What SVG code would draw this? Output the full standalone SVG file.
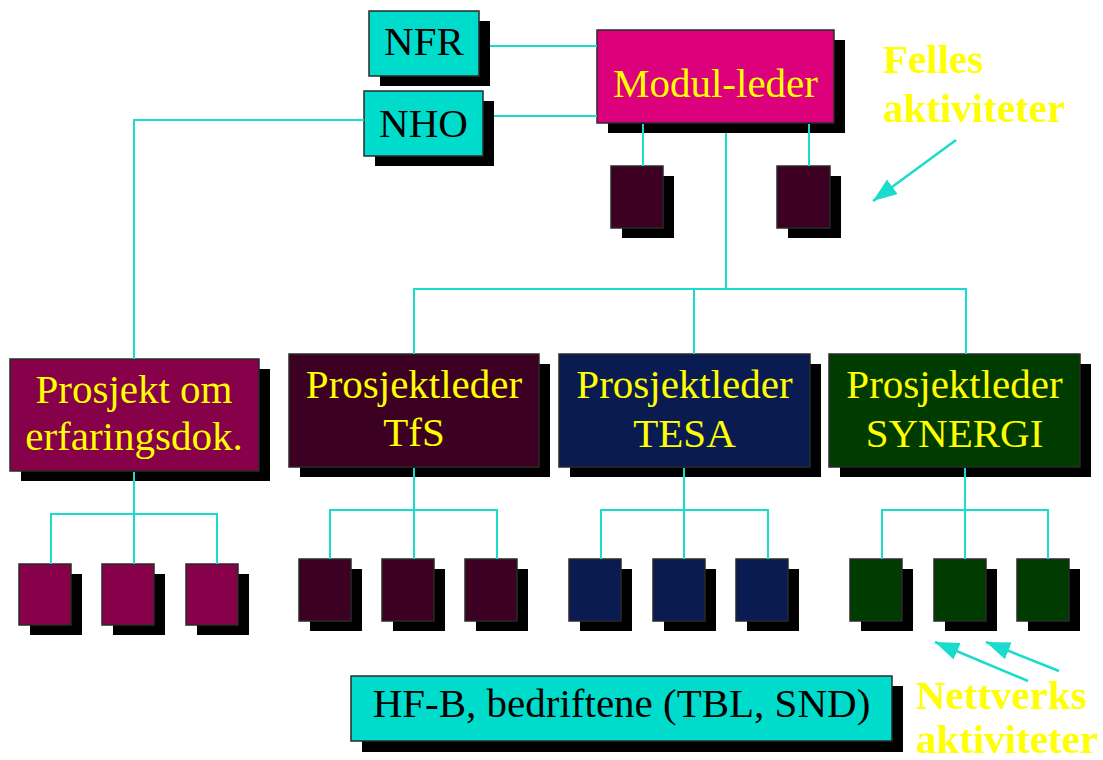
<svg xmlns="http://www.w3.org/2000/svg" width="1103" height="760" viewBox="0 0 1103 760">
  <style>
    .shadow { fill: #000; }
    .box { stroke: #2a2a2a; stroke-width: 1.5; }
    .cyan { fill: #00dccb; }
    .magenta { fill: #dc007c; }
    .plum { fill: #86004a; }
    .wine { fill: #3c0022; }
    .navy { fill: #0a1b52; }
    .forest { fill: #003c00; }
    .label { font-family: "Liberation Serif", "Times New Roman", serif; font-size: 41px; text-anchor: middle; }
    .yellow { fill: #ffff00; }
    .dark { fill: #000; }
    .note { font-family: "Liberation Serif", "Times New Roman", serif; font-size: 41px; font-weight: bold; fill: #ffff00; }
    .link { fill: none; stroke: #1adccc; stroke-width: 2; }
    .pointer { fill: none; stroke: #1adccc; stroke-width: 2.5; }
  </style>
  <defs>
    <marker id="head" markerUnits="userSpaceOnUse" markerWidth="26" markerHeight="20" refX="24" refY="9" orient="auto">
      <path d="M0,0 L24,9 L0,18 Z" fill="#1adccc"/>
    </marker>
  </defs>

  <rect width="1103" height="760" fill="#fff"/>

  <!-- partner organisations -->
  <g id="nfr">
    <rect class="shadow" x="380" y="21" width="110" height="65"/>
    <rect class="box cyan" x="369" y="11" width="110" height="65"/>
    <text class="label dark" x="424" y="55">NFR</text>
  </g>
  <g id="nho">
    <rect class="shadow" x="375" y="101" width="119" height="65"/>
    <rect class="box cyan" x="364" y="91" width="119" height="65"/>
    <text class="label dark" x="423.5" y="137">NHO</text>
  </g>

  <!-- module leader and shared activities -->
  <g id="modul-leder">
    <rect class="shadow" x="608" y="40" width="237" height="93"/>
    <rect class="box magenta" x="597" y="30" width="237" height="93"/>
    <text class="label yellow" x="715.5" y="97">Modul-leder</text>
  </g>
  <g id="felles-1">
    <rect class="shadow" x="622" y="176" width="52" height="62"/>
    <rect class="box wine" x="611" y="166" width="52" height="62"/>
  </g>
  <g id="felles-2">
    <rect class="shadow" x="788" y="176" width="53" height="62"/>
    <rect class="box wine" x="777" y="166" width="53" height="62"/>
  </g>

  <!-- project leaders -->
  <g id="erfaringsdok">
    <rect class="shadow" x="21" y="369" width="249" height="112"/>
    <rect class="box plum" x="10" y="359" width="249" height="112"/>
    <text class="label yellow" x="134" y="403">Prosjekt om</text>
    <text class="label yellow" x="134" y="450">erfaringsdok.</text>
  </g>
  <g id="tfs">
    <rect class="shadow" x="300" y="364" width="250" height="113"/>
    <rect class="box wine" x="289" y="354" width="250" height="113"/>
    <text class="label yellow" x="414" y="398">Prosjektleder</text>
    <text class="label yellow" x="414" y="446">TfS</text>
  </g>
  <g id="tesa">
    <rect class="shadow" x="570" y="364" width="251" height="113"/>
    <rect class="box navy" x="559" y="354" width="251" height="113"/>
    <text class="label yellow" x="684.5" y="398">Prosjektleder</text>
    <text class="label yellow" x="684.5" y="447">TESA</text>
  </g>
  <g id="synergi">
    <rect class="shadow" x="840" y="364" width="251" height="113"/>
    <rect class="box forest" x="829" y="354" width="251" height="113"/>
    <text class="label yellow" x="954.5" y="398">Prosjektleder</text>
    <text class="label yellow" x="954.5" y="447">SYNERGI</text>
  </g>

  <!-- sub-projects -->
  <g id="erfaringsdok-1"><rect class="shadow" x="30" y="574" width="52" height="61"/><rect class="box plum" x="19" y="564" width="52" height="61"/></g>
  <g id="erfaringsdok-2"><rect class="shadow" x="113" y="574" width="52" height="61"/><rect class="box plum" x="102" y="564" width="52" height="61"/></g>
  <g id="erfaringsdok-3"><rect class="shadow" x="197" y="574" width="52" height="61"/><rect class="box plum" x="186" y="564" width="52" height="61"/></g>

  <g id="tfs-1"><rect class="shadow" x="310" y="569" width="52" height="62"/><rect class="box wine" x="299" y="559" width="52" height="62"/></g>
  <g id="tfs-2"><rect class="shadow" x="393" y="569" width="52" height="62"/><rect class="box wine" x="382" y="559" width="52" height="62"/></g>
  <g id="tfs-3"><rect class="shadow" x="476" y="569" width="52" height="62"/><rect class="box wine" x="465" y="559" width="52" height="62"/></g>

  <g id="tesa-1"><rect class="shadow" x="580" y="569" width="52" height="62"/><rect class="box navy" x="569" y="559" width="52" height="62"/></g>
  <g id="tesa-2"><rect class="shadow" x="664" y="569" width="52" height="62"/><rect class="box navy" x="653" y="559" width="52" height="62"/></g>
  <g id="tesa-3"><rect class="shadow" x="747" y="569" width="52" height="62"/><rect class="box navy" x="736" y="559" width="52" height="62"/></g>

  <g id="synergi-1"><rect class="shadow" x="861" y="569" width="52" height="62"/><rect class="box forest" x="850" y="559" width="52" height="62"/></g>
  <g id="synergi-2"><rect class="shadow" x="945" y="569" width="52" height="62"/><rect class="box forest" x="934" y="559" width="52" height="62"/></g>
  <g id="synergi-3"><rect class="shadow" x="1028" y="569" width="52" height="62"/><rect class="box forest" x="1017" y="559" width="52" height="62"/></g>

  <!-- industry partners -->
  <g id="hf-b">
    <rect class="shadow" x="362" y="686" width="541" height="66"/>
    <rect class="box cyan" x="351" y="676" width="541" height="65"/>
    <text class="label dark" x="621.5" y="717">HF-B, bedriftene (TBL, SND)</text>
  </g>

  <!-- annotations -->
  <g id="felles-note">
    <text class="note" x="883" y="73">Felles</text>
    <text class="note" x="883" y="122">aktiviteter</text>
  </g>
  <g id="nettverk-note">
    <text class="note" x="916" y="709">Nettverks</text>
    <text class="note" x="916" y="753">aktiviteter</text>
  </g>

  <g id="connectors">
    <!-- partners to module leader -->
    <path class="link" d="M490,46 H597"/>
    <path class="link" d="M494,116 H597"/>
    <path class="link" d="M364,120 H134 V359"/>
    <!-- module leader to shared activities -->
    <path class="link" d="M643,124 V166"/>
    <path class="link" d="M809,124 V166"/>
    <!-- module leader to project leaders -->
    <path class="link" d="M726,133 V289"/>
    <path class="link" d="M414,354 V289 H966 V354"/>
    <path class="link" d="M694,289 V354"/>
    <!-- project leaders to sub-projects -->
    <path class="link" d="M134,472 V564 M51,564 V514 H217 V564"/>
    <path class="link" d="M414,468 V559 M330,559 V510 H497 V559"/>
    <path class="link" d="M684,468 V559 M601,559 V510 H768 V559"/>
    <path class="link" d="M965,468 V559 M882,559 V510 H1048 V559"/>
    <!-- annotation pointers -->
    <path class="pointer" d="M956,140 L873,201" marker-end="url(#head)"/>
    <path class="pointer" d="M1028,681 L935,642" marker-end="url(#head)"/>
    <path class="pointer" d="M1059,671 L986,642" marker-end="url(#head)"/>
  </g>
</svg>
